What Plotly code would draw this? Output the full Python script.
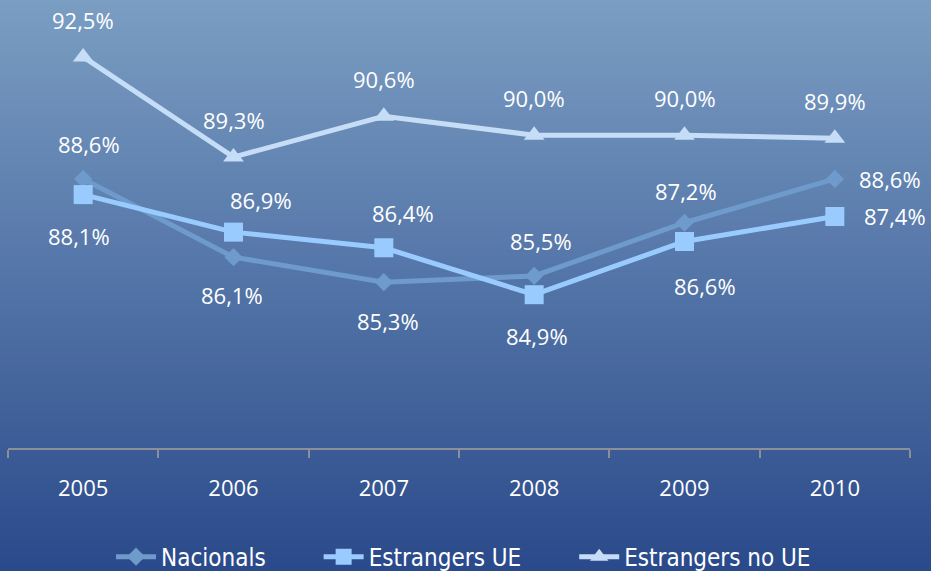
import plotly.graph_objects as go

years = ["2005", "2006", "2007", "2008", "2009", "2010"]
nacionals = [88.6, 86.1, 85.3, 85.5, 87.2, 88.6]
estr_ue = [88.1, 86.9, 86.4, 84.9, 86.6, 87.4]
estr_no_ue = [92.5, 89.3, 90.6, 90.0, 90.0, 89.9]

# label offsets in px (dx, dy); dy=0 means label placed to the right
nac_off = [(6, 35), (-2, -38), (4, -39), (7, 35), (1, 32), (22, 0)]
ue_off = [(-4, -41), (27, 32), (19, 35), (3, -41), (20, -44), (27, 0)]
noue_off = [(0, 37)] * 6

W, H = 931, 571
ML, MR, MT, MB = 8, 21, 10, 123

def lab(v):
    return ("%.1f%%" % v).replace(".", ",")

fig = go.Figure()

# vertical gradient background
top = (122, 157, 194)
bot = (43, 74, 139)
n = 80
ph = H - MT - MB
pw = W - ML - MR
for i in range(n):
    t = i / (n - 1)
    c = tuple(int(round(top[k] + (bot[k] - top[k]) * t)) for k in range(3))
    p0 = i * H / n
    p1 = (i + 1) * H / n + 1
    fig.add_shape(type="rect", xref="paper", yref="paper",
                  x0=-ML / pw - 0.01, x1=(W - ML) / pw + 0.01,
                  y1=(H - MB - p0) / ph + (0.01 if i == 0 else 0),
                  y0=(H - MB - p1) / ph - (0.01 if i == n - 1 else 0),
                  fillcolor="rgb(%d,%d,%d)" % c, line_width=0, layer="below")

pad = "\u00a0" * 7
series = [
    ("Nacionals", pad, nacionals, "#6e9bcb", "diamond", 14, nac_off),
    ("Estrangers UE", pad, estr_ue, "#99cbff", "square", 19, ue_off),
    ("Estrangers no UE", "", estr_no_ue, "#c6ddf8", "triangle-up", 18, noue_off),
]

lbl_font = dict(family="Open Sans, sans-serif", size=22, color="white")

for name, tail, vals, col, sym, sz, offs in series:
    fig.add_trace(go.Scatter(x=years, y=vals, name=name + tail, mode="lines+markers",
                             line=dict(color=col, width=5),
                             marker=dict(symbol=sym, size=sz, color=col),
                             cliponaxis=False))
    for i, (v, (dx, dy)) in enumerate(zip(vals, offs)):
        if dy == 0:
            fig.add_annotation(x=i, y=v, xref="x", yref="y", text=lab(v), showarrow=False,
                               xanchor="left", yanchor="middle", xshift=dx, font=lbl_font)
        else:
            fig.add_annotation(x=i, y=v, xref="x", yref="y", text=lab(v), showarrow=False,
                               xanchor="center", yanchor="middle", xshift=dx, yshift=dy,
                               font=lbl_font)

fig.update_layout(
    width=W, height=H,
    margin=dict(l=ML, r=MR, t=MT, b=MB, autoexpand=False),
    paper_bgcolor="#2b4a8b", plot_bgcolor="rgba(0,0,0,0)",
    showlegend=True,
    legend=dict(orientation="h", x=0.505, xanchor="center", y=-0.249, yanchor="middle",
                font=dict(family="DejaVu Sans Condensed, Liberation Sans Narrow, sans-serif",
                          size=24, color="white"),
                bgcolor="rgba(0,0,0,0)", itemwidth=40),
    xaxis=dict(type="category", range=[-0.5, 5.5], showgrid=False, zeroline=False,
               showline=True, linecolor="#8a8f98", linewidth=2,
               ticks="outside", tickson="boundaries", ticklen=8, tickcolor="#8a8f98", tickwidth=2,
               tickfont=dict(family="Open Sans, sans-serif", size=22, color="white"),
               ticklabelstandoff=20),
    yaxis=dict(range=[80, 94], visible=False, showgrid=False, zeroline=False),
)

fig.write_html("out.html", config={"displayModeBar": False},
               post_script="document.body.style.margin='0';document.body.style.background='#2b4a8b';")
